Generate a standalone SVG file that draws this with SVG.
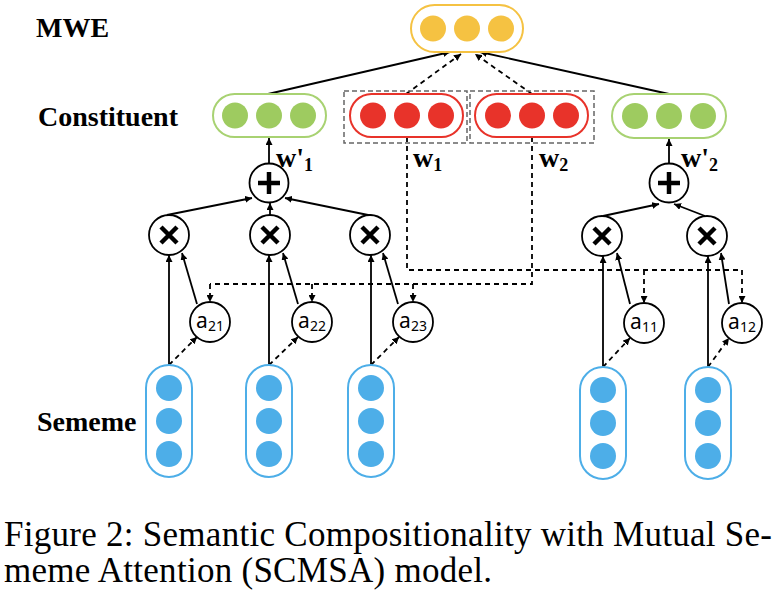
<svg xmlns="http://www.w3.org/2000/svg" width="782" height="594" viewBox="0 0 782 594">
<defs>
<marker id="arr" viewBox="0 0 10 10" refX="10" refY="5" markerWidth="7" markerHeight="7" markerUnits="userSpaceOnUse" orient="auto">
<path d="M0,0 L10,5 L0,10 z" fill="#000"/>
</marker>
<style>
.lbl{font-family:"Liberation Serif","Times New Roman",serif;font-weight:bold;font-size:28px;fill:#000}
.w{font-family:"Liberation Serif","Times New Roman",serif;font-weight:bold;font-size:28px;fill:#000}
.att{font-family:"Noto Sans","Liberation Sans",sans-serif;font-size:21px;fill:#000}
.cap{font-family:"Liberation Serif","Times New Roman",serif;font-size:35px;fill:#000}
.op{fill:#fff;stroke:#000;stroke-width:1.8}
.sym{stroke:#000;stroke-width:4.5;stroke-linecap:butt}
.sl{fill:none;stroke:#000;stroke-width:1.8;marker-end:url(#arr)}
.dl{fill:none;stroke:#000;stroke-width:1.8;stroke-dasharray:5 4;marker-end:url(#arr)}
.dn{fill:none;stroke:#000;stroke-width:1.8;stroke-dasharray:5 4}
.box{fill:none;stroke:#666;stroke-width:1.5;stroke-dasharray:5 3}
.yc{fill:#F5C242}.gc{fill:#9ECB60}.rc{fill:#E8332A}.bc{fill:#4DAEE8}
</style>
</defs>
<rect width="782" height="594" fill="#fff"/>

<text class="lbl" x="36" y="37">MWE</text>
<text class="lbl" x="38" y="126">Constituent</text>
<text class="lbl" x="37" y="431">Sememe</text>

<g id="connectors">
<line class="sl" x1="268" y1="94" x2="450" y2="52"/>
<line class="sl" x1="669" y1="94" x2="480" y2="52"/>
<line class="dl" x1="406" y1="94" x2="461" y2="54"/>
<line class="dl" x1="532" y1="94" x2="475" y2="54"/>
<line class="sl" x1="269" y1="163" x2="269" y2="138"/>
<line class="sl" x1="669" y1="163" x2="669" y2="139"/>
<line class="sl" x1="167" y1="215" x2="252" y2="198"/>
<line class="sl" x1="270" y1="215" x2="270" y2="203"/>
<line class="sl" x1="373" y1="216" x2="285" y2="198"/>
<line class="sl" x1="603" y1="216" x2="659" y2="204"/>
<line class="sl" x1="705" y1="216" x2="674" y2="204"/>
<line class="sl" x1="169" y1="365" x2="169" y2="255"/>
<line class="sl" x1="269" y1="365" x2="269" y2="255"/>
<line class="sl" x1="371" y1="365" x2="371" y2="255"/>
<line class="sl" x1="603" y1="367" x2="603" y2="256"/>
<line class="sl" x1="708" y1="367" x2="708" y2="256"/>
<line class="sl" x1="197" y1="304" x2="182" y2="253"/>
<line class="sl" x1="298" y1="304" x2="283" y2="253"/>
<line class="sl" x1="398" y1="304" x2="383" y2="253"/>
<line class="sl" x1="630" y1="304" x2="617" y2="253"/>
<line class="sl" x1="729" y1="304" x2="721" y2="253"/>
<polyline class="dn" points="407,137 407,270 742,270"/>
<polyline class="dn" points="532,137 532,284 210,284"/>
<line class="dl" x1="742" y1="270" x2="742" y2="303"/>
<line class="dl" x1="644" y1="270" x2="644" y2="303"/>
<line class="dl" x1="210" y1="284" x2="210" y2="302"/>
<line class="dl" x1="312" y1="284" x2="312" y2="302"/>
<line class="dl" x1="413" y1="284" x2="413" y2="302"/>
<line class="dl" x1="169" y1="365" x2="197" y2="337"/>
<line class="dl" x1="269" y1="365" x2="298" y2="337"/>
<line class="dl" x1="371" y1="365" x2="399" y2="337"/>
<line class="dl" x1="603" y1="367" x2="630" y2="338"/>
<line class="dl" x1="708" y1="367" x2="729" y2="338"/>
</g>

<g id="mwe">
<rect x="411" y="5" width="112" height="47" rx="23.5" fill="#fff" stroke="#F5C242" stroke-width="2"/>
<circle class="yc" cx="433" cy="28.5" r="13"/><circle class="yc" cx="467" cy="28.5" r="13"/><circle class="yc" cx="501" cy="28.5" r="13"/>
</g>

<g id="constituent1">
<rect x="213" y="94" width="113" height="43" rx="21.5" fill="#fff" stroke="#A8D272" stroke-width="2"/>
<circle class="gc" cx="235" cy="115.5" r="13"/><circle class="gc" cx="269" cy="115.5" r="13"/><circle class="gc" cx="303" cy="115.5" r="13"/>
</g>
<g id="w1box">
<rect class="box" x="344" y="91" width="123" height="52"/>
<rect x="350" y="94" width="113" height="43" rx="21.5" fill="#fff" stroke="#E8332A" stroke-width="2"/>
<circle class="rc" cx="373" cy="115.5" r="13"/><circle class="rc" cx="407" cy="115.5" r="13"/><circle class="rc" cx="441" cy="115.5" r="13"/>
</g>
<g id="w2box">
<rect class="box" x="470" y="91" width="124" height="52"/>
<rect x="475" y="94" width="113" height="43" rx="21.5" fill="#fff" stroke="#E8332A" stroke-width="2"/>
<circle class="rc" cx="498" cy="115.5" r="13"/><circle class="rc" cx="532" cy="115.5" r="13"/><circle class="rc" cx="566" cy="115.5" r="13"/>
</g>
<g id="constituent2">
<rect x="612" y="94" width="114" height="44" rx="22" fill="#fff" stroke="#A8D272" stroke-width="2"/>
<circle class="gc" cx="635" cy="116" r="13"/><circle class="gc" cx="669" cy="116" r="13"/><circle class="gc" cx="703" cy="116" r="13"/>
</g>

<text class="w" x="276" y="167">w'<tspan font-size="18" dy="4">1</tspan></text>
<text class="w" x="413" y="167">w<tspan font-size="18" dy="4">1</tspan></text>
<text class="w" x="539" y="167">w<tspan font-size="18" dy="4">2</tspan></text>
<text class="w" x="681" y="167">w'<tspan font-size="18" dy="4">2</tspan></text>

<g id="plus1"><circle class="op" cx="269" cy="183" r="19.5"/><line class="sym" x1="258" y1="183" x2="280" y2="183"/><line class="sym" x1="269" y1="172" x2="269" y2="194"/></g>
<g id="plus2"><circle class="op" cx="669" cy="183" r="19.5"/><line class="sym" x1="658" y1="183" x2="680" y2="183"/><line class="sym" x1="669" y1="172" x2="669" y2="194"/></g>

<g id="times1"><circle class="op" cx="169" cy="235" r="20"/><path class="sym" d="M161,227 L177,243 M177,227 L161,243"/></g>
<g id="times2"><circle class="op" cx="270" cy="235" r="20"/><path class="sym" d="M262,227 L278,243 M278,227 L262,243"/></g>
<g id="times3"><circle class="op" cx="370" cy="235" r="20"/><path class="sym" d="M362,227 L378,243 M378,227 L362,243"/></g>
<g id="times4"><circle class="op" cx="602" cy="236" r="20"/><path class="sym" d="M594,228 L610,244 M610,228 L594,244"/></g>
<g id="times5"><circle class="op" cx="707" cy="236" r="20"/><path class="sym" d="M699,228 L715,244 M715,228 L699,244"/></g>

<g id="a21"><circle class="op" cx="210" cy="322" r="20"/><text class="att" x="210" y="328" text-anchor="middle">a<tspan font-size="14" dy="3">21</tspan></text></g>
<g id="a22"><circle class="op" cx="312" cy="322" r="20"/><text class="att" x="312" y="328" text-anchor="middle">a<tspan font-size="14" dy="3">22</tspan></text></g>
<g id="a23"><circle class="op" cx="413" cy="322" r="20"/><text class="att" x="413" y="328" text-anchor="middle">a<tspan font-size="14" dy="3">23</tspan></text></g>
<g id="a11"><circle class="op" cx="644" cy="323" r="20"/><text class="att" x="644" y="329" text-anchor="middle">a<tspan font-size="14" dy="3">11</tspan></text></g>
<g id="a12"><circle class="op" cx="742" cy="323" r="20"/><text class="att" x="742" y="329" text-anchor="middle">a<tspan font-size="14" dy="3">12</tspan></text></g>

<g id="sememe1"><rect x="146" y="365" width="46" height="112" rx="23" fill="#fff" stroke="#4DAEE8" stroke-width="2"/><circle class="bc" cx="169" cy="388" r="13"/><circle class="bc" cx="169" cy="421" r="13"/><circle class="bc" cx="169" cy="454" r="13"/></g>
<g id="sememe2"><rect x="246" y="365" width="46" height="112" rx="23" fill="#fff" stroke="#4DAEE8" stroke-width="2"/><circle class="bc" cx="269" cy="388" r="13"/><circle class="bc" cx="269" cy="421" r="13"/><circle class="bc" cx="269" cy="454" r="13"/></g>
<g id="sememe3"><rect x="348" y="365" width="46" height="112" rx="23" fill="#fff" stroke="#4DAEE8" stroke-width="2"/><circle class="bc" cx="371" cy="388" r="13"/><circle class="bc" cx="371" cy="421" r="13"/><circle class="bc" cx="371" cy="454" r="13"/></g>
<g id="sememe4"><rect x="580" y="367" width="46" height="112" rx="23" fill="#fff" stroke="#4DAEE8" stroke-width="2"/><circle class="bc" cx="603" cy="390" r="13"/><circle class="bc" cx="603" cy="423" r="13"/><circle class="bc" cx="603" cy="456" r="13"/></g>
<g id="sememe5"><rect x="685" y="367" width="46" height="112" rx="23" fill="#fff" stroke="#4DAEE8" stroke-width="2"/><circle class="bc" cx="708" cy="390" r="13"/><circle class="bc" cx="708" cy="423" r="13"/><circle class="bc" cx="708" cy="456" r="13"/></g>

<text class="cap" x="4" y="546" textLength="768" lengthAdjust="spacing">Figure 2: Semantic Compositionality with Mutual Se-</text>
<text class="cap" x="4" y="582" textLength="488" lengthAdjust="spacing">meme Attention (SCMSA) model.</text>
</svg>
